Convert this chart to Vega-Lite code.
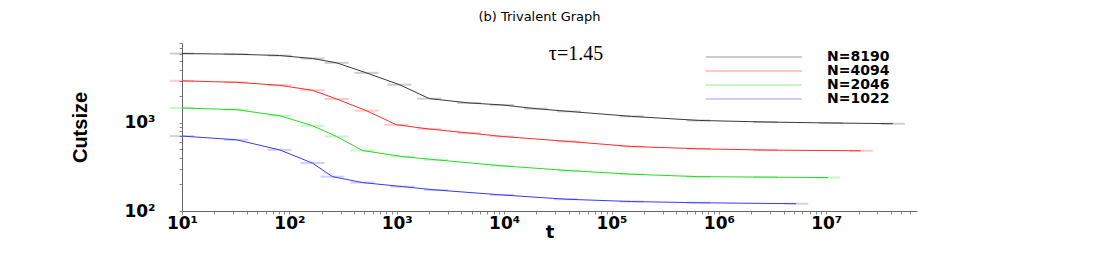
{
  "$schema": "https://vega.github.io/schema/vega-lite/v6.json",
  "autosize": {"type": "none"},
  "padding": {"left": 182, "top": 43, "right": 183, "bottom": 44},
  "width": 735,
  "height": 168,
  "background": "white",
  "title": {"text": "(b) Trivalent Graph", "font": "DejaVu Sans", "fontSize": 13, "fontWeight": "normal", "anchor": "middle", "offset": 10, "dx": -10, "color": "#000"},
  "config": {
    "view": {"stroke": null},
    "axis": {"grid": false, "domainColor": "#666", "tickColor": "#888", "tickSize": 3, "labelColor": "#000", "labelOverlap": false, "labelBound": false, "labelFlush": false},
    "legend": {
      "orient": "none", "legendX": 565, "legendY": 7, "padding": 0,
      "symbolType": "M-12,0H12", "symbolSize": 64, "symbolStrokeWidth": 1, "symbolOpacity": 0.5,
      "labelFont": "DejaVu Sans", "labelFontWeight": "bold", "labelFontSize": 14, "labelColor": "#000",
      "labelOffset": 66, "rowPadding": -1
    }
  },
  "datasets": {
    "curves": [
      {"N": "N=8190", "t": 10, "c": 6080},
      {"N": "N=8190", "t": 32, "c": 5970},
      {"N": "N=8190", "t": 81, "c": 5770},
      {"N": "N=8190", "t": 164, "c": 5340},
      {"N": "N=8190", "t": 275, "c": 4770},
      {"N": "N=8190", "t": 522, "c": 3670},
      {"N": "N=8190", "t": 1057, "c": 2700},
      {"N": "N=8190", "t": 2010, "c": 1875},
      {"N": "N=8190", "t": 4720, "c": 1675},
      {"N": "N=8190", "t": 9570, "c": 1590},
      {"N": "N=8190", "t": 19800, "c": 1443},
      {"N": "N=8190", "t": 40100, "c": 1343},
      {"N": "N=8190", "t": 154000, "c": 1180},
      {"N": "N=8190", "t": 646000, "c": 1062},
      {"N": "N=8190", "t": 2700000, "c": 1019},
      {"N": "N=8190", "t": 11100000, "c": 993},
      {"N": "N=8190", "t": 41700000, "c": 975},
      {"N": "N=4094", "t": 10, "c": 2980},
      {"N": "N=4094", "t": 32, "c": 2870},
      {"N": "N=4094", "t": 81, "c": 2655},
      {"N": "N=4094", "t": 164, "c": 2330},
      {"N": "N=4094", "t": 275, "c": 1858},
      {"N": "N=4094", "t": 522, "c": 1368},
      {"N": "N=4094", "t": 990, "c": 949},
      {"N": "N=4094", "t": 2010, "c": 848},
      {"N": "N=4094", "t": 4720, "c": 764},
      {"N": "N=4094", "t": 9570, "c": 699},
      {"N": "N=4094", "t": 40100, "c": 613},
      {"N": "N=4094", "t": 154000, "c": 538},
      {"N": "N=4094", "t": 646000, "c": 507},
      {"N": "N=4094", "t": 2700000, "c": 490},
      {"N": "N=4094", "t": 21000000, "c": 481},
      {"N": "N=2046", "t": 10, "c": 1469},
      {"N": "N=2046", "t": 32, "c": 1405},
      {"N": "N=2046", "t": 81, "c": 1202},
      {"N": "N=2046", "t": 164, "c": 925},
      {"N": "N=2046", "t": 275, "c": 699},
      {"N": "N=2046", "t": 479, "c": 484},
      {"N": "N=2046", "t": 1127, "c": 414},
      {"N": "N=2046", "t": 2330, "c": 380},
      {"N": "N=2046", "t": 9570, "c": 325},
      {"N": "N=2046", "t": 40100, "c": 287},
      {"N": "N=2046", "t": 154000, "c": 261},
      {"N": "N=2046", "t": 646000, "c": 245},
      {"N": "N=2046", "t": 2700000, "c": 242},
      {"N": "N=2046", "t": 10400000, "c": 239},
      {"N": "N=1022", "t": 10, "c": 706},
      {"N": "N=1022", "t": 32, "c": 641},
      {"N": "N=1022", "t": 81, "c": 493},
      {"N": "N=1022", "t": 164, "c": 349},
      {"N": "N=1022", "t": 252, "c": 245},
      {"N": "N=1022", "t": 479, "c": 210},
      {"N": "N=1022", "t": 1127, "c": 189},
      {"N": "N=1022", "t": 2330, "c": 173},
      {"N": "N=1022", "t": 9570, "c": 152},
      {"N": "N=1022", "t": 37600, "c": 136},
      {"N": "N=1022", "t": 154000, "c": 128},
      {"N": "N=1022", "t": 646000, "c": 124},
      {"N": "N=1022", "t": 5250000, "c": 121}
    ]
  },
  "layer": [
    {
      "data": {"name": "curves"},
      "mark": {"type": "line", "strokeWidth": 1},
      "encoding": {
        "x": {
          "field": "t", "type": "quantitative",
          "scale": {"type": "log", "domain": [10, 70000000], "nice": false},
          "axis": {
            "title": "t", "titleFont": "DejaVu Sans", "titleFontWeight": "bold", "titleFontSize": 18, "titlePadding": -8,
            "values": [10,20,30,40,50,60,70,80,90,100,200,300,400,500,600,700,800,900,1000,2000,3000,4000,5000,6000,7000,8000,9000,10000,20000,30000,40000,50000,60000,70000,80000,90000,100000,200000,300000,400000,500000,600000,700000,800000,900000,1000000,2000000,3000000,4000000,5000000,6000000,7000000,8000000,9000000,10000000,20000000,30000000,40000000,50000000,60000000],
            "labelExpr": "abs(log(datum.value)/LN10 - round(log(datum.value)/LN10)) < 1e-6 ? '10' + ['⁰','¹','²','³','⁴','⁵','⁶','⁷','⁸'][round(log(datum.value)/LN10)] : ''",
            "labelFont": "DejaVu Sans", "labelFontWeight": "bold", "labelFontSize": 17, "labelPadding": 1
          }
        },
        "y": {
          "field": "c", "type": "quantitative",
          "scale": {"type": "log", "domain": [100, 8000], "nice": false},
          "axis": {
            "title": "Cutsize", "titleFont": "Liberation Sans", "titleFontWeight": "bold", "titleFontSize": 20,
            "titleX": -102, "titleY": 84, "titleAngle": -90, "titleAlign": "center", "titleBaseline": "middle",
            "values": [100,200,300,400,500,600,700,800,900,1000,2000,3000,4000,5000,6000,7000,8000],
            "labelExpr": "abs(log(datum.value)/LN10 - round(log(datum.value)/LN10)) < 1e-6 ? '10' + ['⁰','¹','²','³','⁴','⁵','⁶','⁷','⁸'][round(log(datum.value)/LN10)] : ''",
            "labelFont": "DejaVu Sans", "labelFontWeight": "bold", "labelFontSize": 17, "labelPadding": 24
          }
        },
        "color": {
          "field": "N", "type": "nominal",
          "scale": {"domain": ["N=8190", "N=4094", "N=2046", "N=1022"], "range": ["#3a3a3a", "#ff2a2a", "#22dd22", "#3a3aff"]},
          "legend": {"title": null}
        },
        "detail": {"field": "N"}
      }
    },
    {
      "data": {"name": "curves"},
      "mark": {"type": "tick", "orient": "horizontal", "size": 24, "thickness": 2, "opacity": 0.25},
      "encoding": {
        "x": {"field": "t", "type": "quantitative"},
        "y": {"field": "c", "type": "quantitative"},
        "color": {"field": "N", "type": "nominal"}
      }
    },
    {
      "data": {"values": [{"t": 26100, "c": 5930, "label": "τ=1.45"}]},
      "mark": {"type": "text", "align": "left", "baseline": "middle", "font": "Liberation Serif", "fontSize": 20, "color": "#000"},
      "encoding": {
        "x": {"field": "t", "type": "quantitative"},
        "y": {"field": "c", "type": "quantitative"},
        "text": {"field": "label"}
      }
    }
  ]
}
